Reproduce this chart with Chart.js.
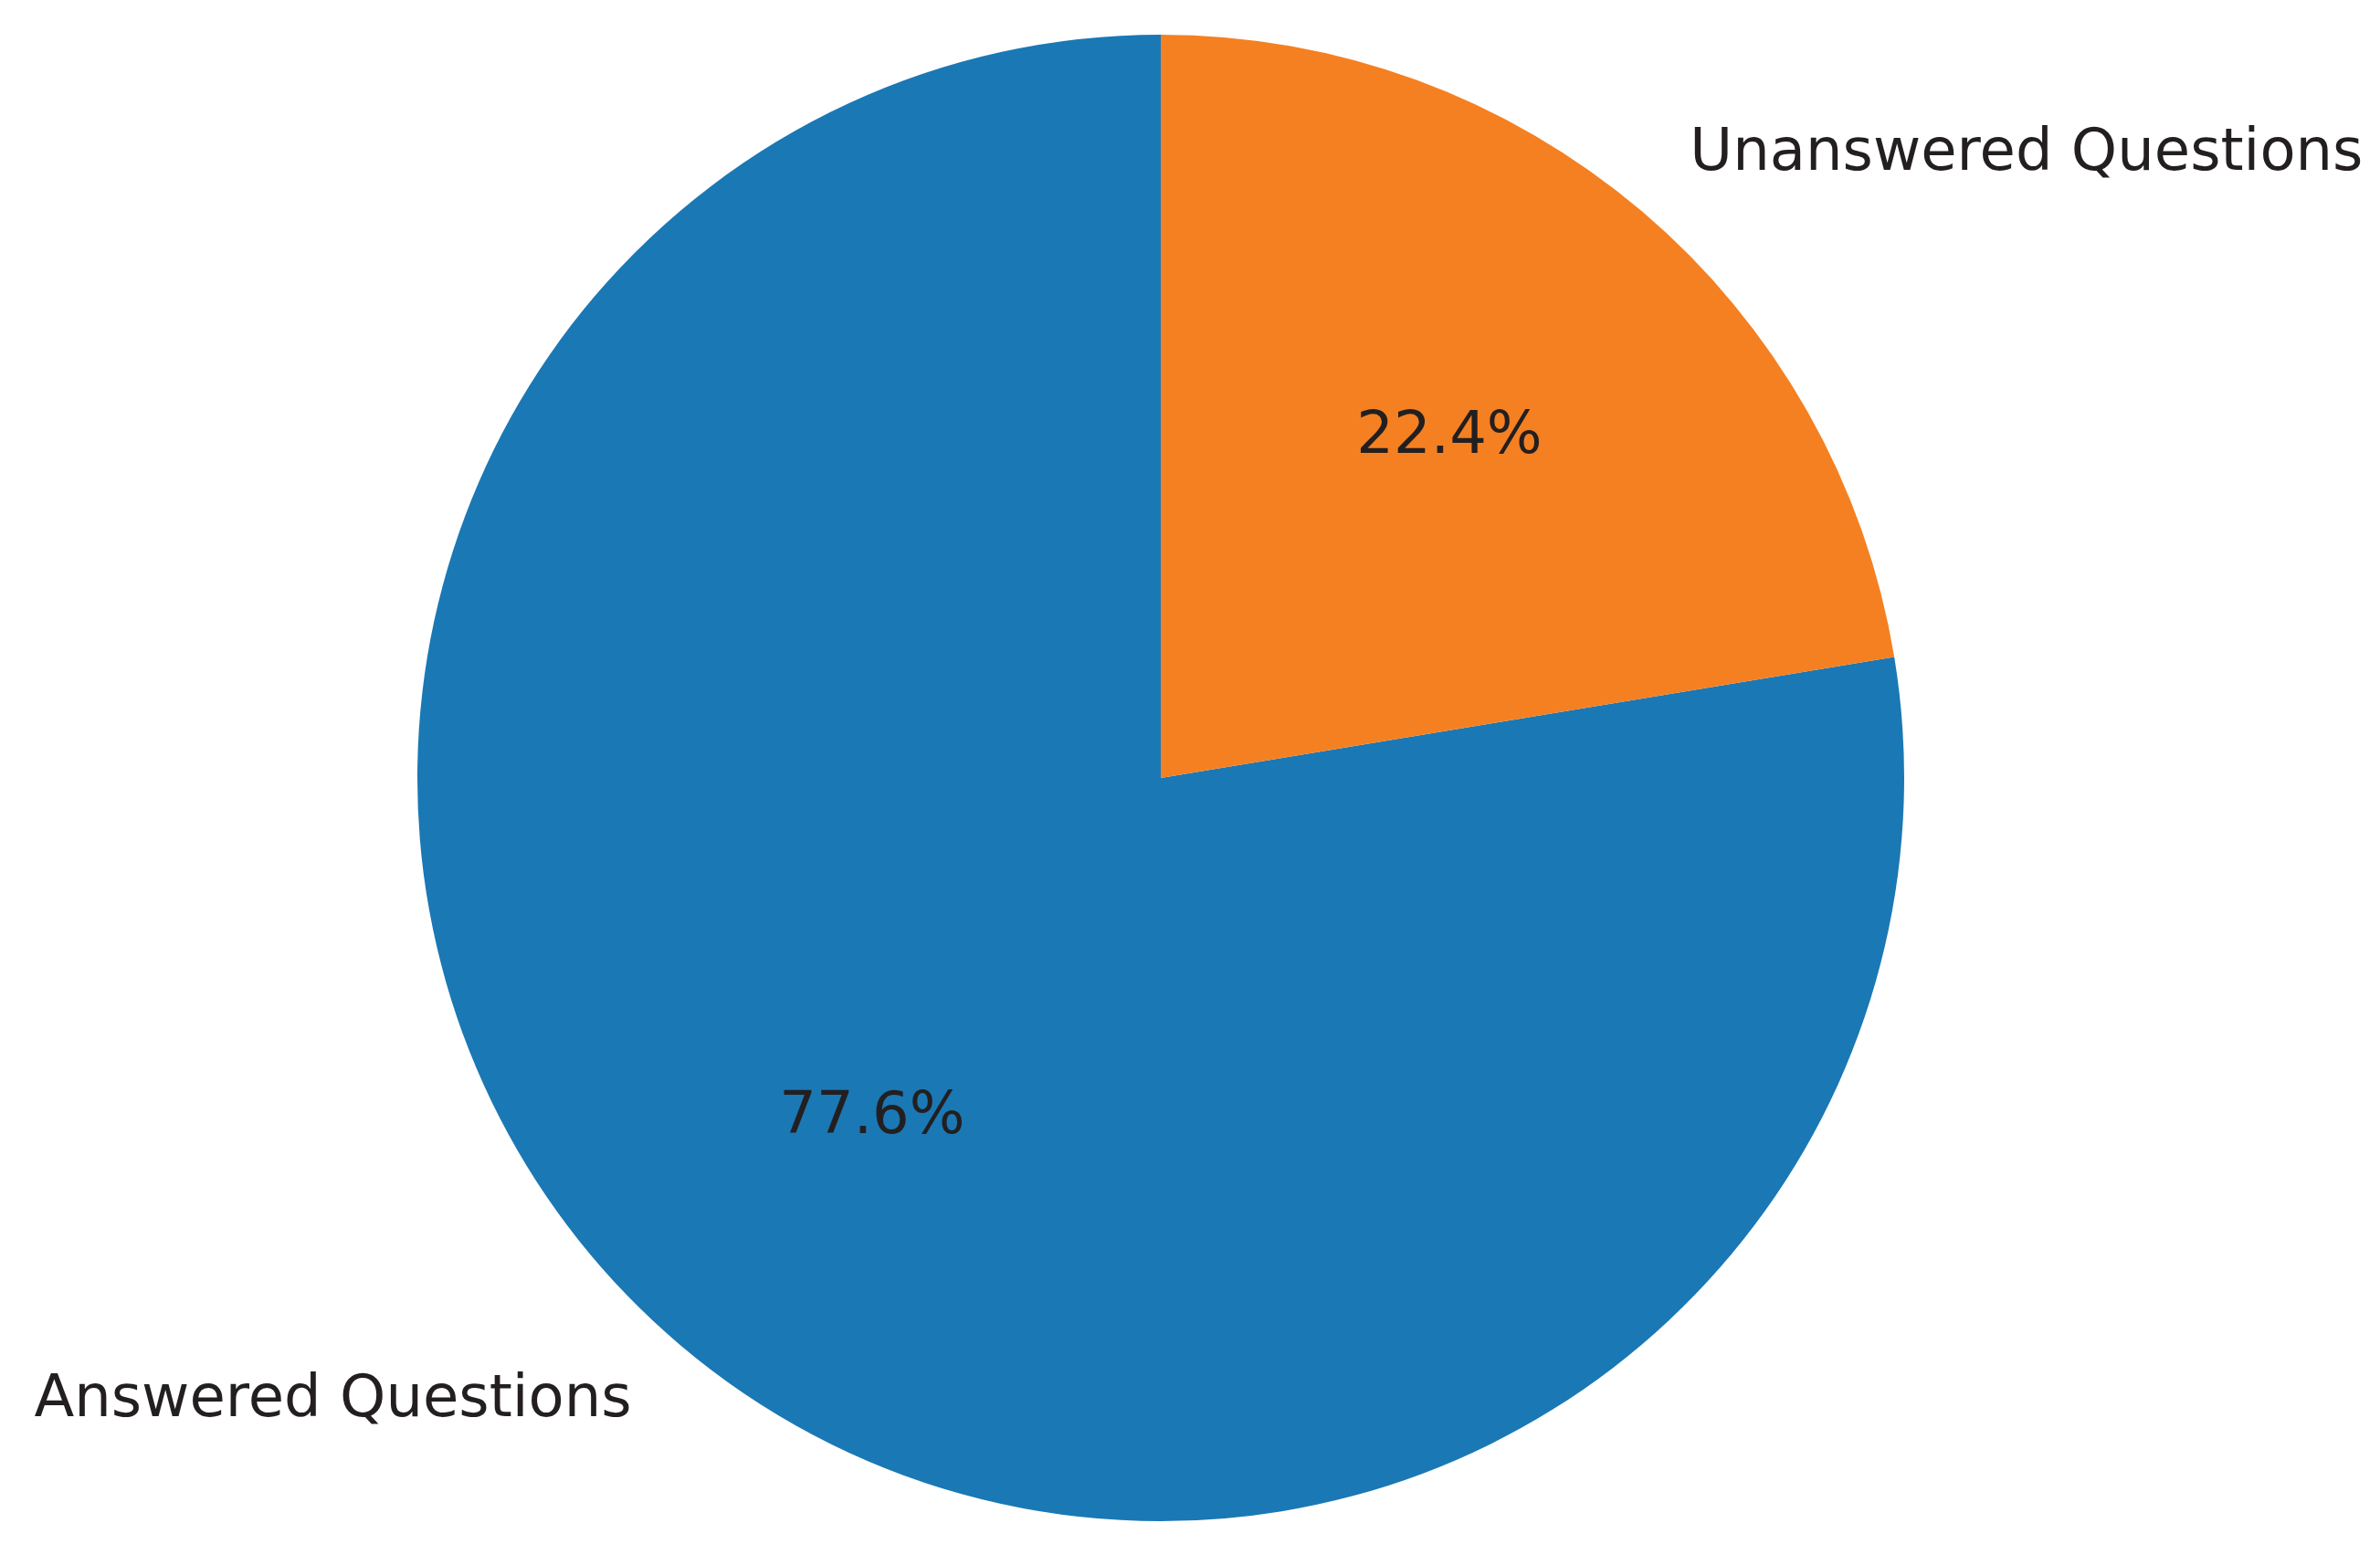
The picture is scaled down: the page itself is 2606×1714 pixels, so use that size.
<!DOCTYPE html>
<html>
<head>
<meta charset="utf-8">
<script src="https://cdn.jsdelivr.net/npm/chart.js@4.4.1/dist/chart.umd.min.js"></script>
<style>
  html, body { margin: 0; padding: 0; background: #fff; }
  #wrap { width: 2606px; height: 1714px; }
</style>
</head>
<body>
<div id="wrap"><canvas id="pieChart" width="2606" height="1714"></canvas></div>
<script>
// Data
const categories = ['Answered Questions', 'Unanswered Questions'];
const shares = [77.6, 22.4];
const sliceColors = ['#1a78b5', '#f58021'];

const total = shares.reduce((s, v) => s + v, 0);
// matplotlib starts at 90 deg and goes counterclockwise; chart.js goes clockwise,
// so rotate by the second slice so the first one ends at the top
const rotation = shares[1] / total * 360;

// Labels outside (1.1 r) and percentages inside (0.6 r), like autopct
const pieLabels = {
    id: 'pieLabels',
    afterDraw(chart) {
        const ctx = chart.ctx;
        const arcs = chart.getDatasetMeta(0).data;
        ctx.save();
        ctx.fillStyle = '#231f20';
        ctx.font = '64px "DejaVu Sans"';
        ctx.textBaseline = 'middle';
        arcs.forEach((arc, i) => {
            const mid = (arc.startAngle + arc.endAngle) / 2;
            const r = arc.outerRadius;
            const c = Math.cos(mid), s = Math.sin(mid);
            ctx.textAlign = c >= 0 ? 'left' : 'right';
            ctx.fillText(categories[i], arc.x + 1.1 * r * c, arc.y + 1.1 * r * s);
            ctx.textAlign = 'center';
            const pct = (shares[i] / total * 100).toFixed(1) + '%';
            ctx.fillText(pct, arc.x + 0.6 * r * c, arc.y + 0.6 * r * s);
        });
        ctx.restore();
    }
};

new Chart(document.getElementById('pieChart').getContext('2d'), {
    type: 'pie',
    data: {
        labels: categories,
        datasets: [{
            data: shares,
            backgroundColor: sliceColors,
            borderWidth: 0
        }]
    },
    options: {
        responsive: false,
        devicePixelRatio: 1,
        animation: false,
        rotation: rotation,
        layout: {
            padding: { top: 38, bottom: 48, left: 0, right: 64 }
        },
        plugins: {
            legend: { display: false },
            tooltip: { enabled: false }
        }
    },
    plugins: [pieLabels]
});
</script>
</body>
</html>
